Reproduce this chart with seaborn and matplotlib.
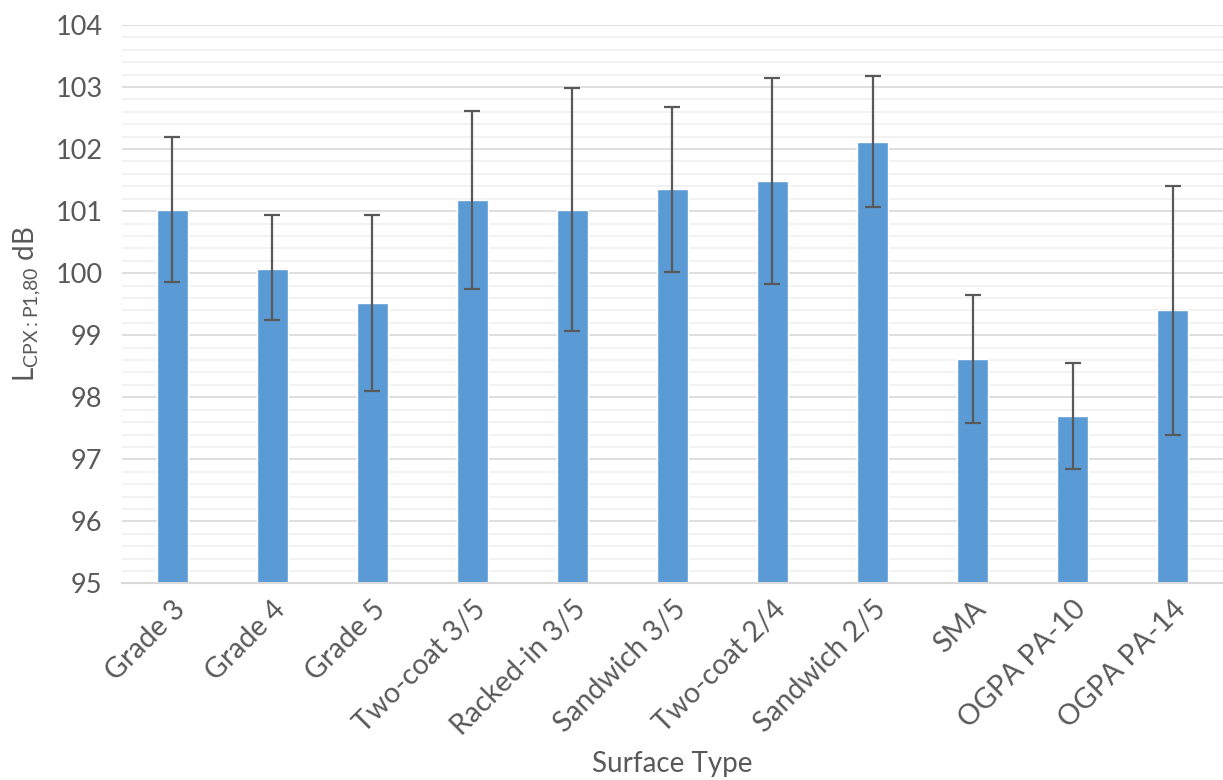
import numpy as np
import pandas as pd
import matplotlib
matplotlib.use("Agg")
import matplotlib.pyplot as plt
import seaborn as sns
from matplotlib.ticker import MultipleLocator

# values
surfaces = ['Grade 3', 'Grade 4', 'Grade 5', 'Two-coat 3/5', 'Racked-in 3/5',
            'Sandwich 3/5', 'Two-coat 2/4', 'Sandwich 2/5', 'SMA', 'OGPA PA-10', 'OGPA PA-14']
level = [101.01, 100.07, 99.52, 101.18, 101.02, 101.35, 101.48, 102.12, 98.62, 97.70, 99.40]
err_low = [99.85, 99.25, 98.10, 99.75, 99.07, 100.02, 99.83, 101.07, 97.58, 96.84, 97.40]
err_high = [102.20, 100.93, 100.94, 102.62, 102.99, 102.67, 103.14, 103.17, 99.65, 98.56, 101.41]

color_bar = '#5B9BD5'
color_dgrey = '#595959'
color_grid = '#D9D9D9'
color_minor = '#F0F0F0'

sns.set_theme(style='white')
plt.rcParams['font.family'] = ['Lato', 'DejaVu Sans']
plt.rcParams['mathtext.fontset'] = 'custom'
plt.rcParams['mathtext.rm'] = 'Lato'

df = pd.DataFrame({'surface': surfaces, 'level': level})

fig = plt.figure(figsize=(12.23, 7.8), dpi=100)
ax = fig.add_axes([0.0998, 0.252, 0.9, 0.716])

sns.barplot(data=df, x='surface', y='level', color=color_bar, width=0.31,
            errorbar=None, saturation=1, ax=ax)

# asymmetric error bars
lo = np.array(level) - np.array(err_low)
hi = np.array(err_high) - np.array(level)
ax.errorbar(np.arange(len(surfaces)), level, yerr=[lo, hi], fmt='none',
            ecolor=color_dgrey, elinewidth=1.6, capsize=6, capthick=1.6, zorder=5)

ax.set_ylim(95, 104)
ax.set_xlim(-0.5, len(surfaces) - 0.5)
ax.yaxis.set_major_locator(MultipleLocator(1))
ax.yaxis.set_minor_locator(MultipleLocator(0.2))
ax.grid(axis='y', which='major', color=color_grid, lw=1.2)
ax.grid(axis='y', which='minor', color=color_minor, lw=1.2)
ax.set_axisbelow(True)

sns.despine(top=True, right=True, left=True)
ax.spines['bottom'].set_color(color_grid)
ax.spines['bottom'].set_linewidth(1.5)

ax.tick_params(axis='both', which='both', length=0, labelsize=19.5, colors=color_dgrey)
ax.set_xticks(range(len(surfaces)))
ax.set_xticklabels(surfaces, rotation=45, ha='right', rotation_mode='anchor')
ax.tick_params(axis='x', pad=9, labelsize=20.5)
ax.tick_params(axis='y', pad=14)

ax.set_xlabel('Surface Type', fontsize=20, color=color_dgrey, labelpad=8)
ax.set_ylabel(r'L$_{\mathregular{CPX{:}P1{,}80}}$ dB', fontsize=20, color=color_dgrey, labelpad=8)

fig.savefig('out.png', dpi=100)
